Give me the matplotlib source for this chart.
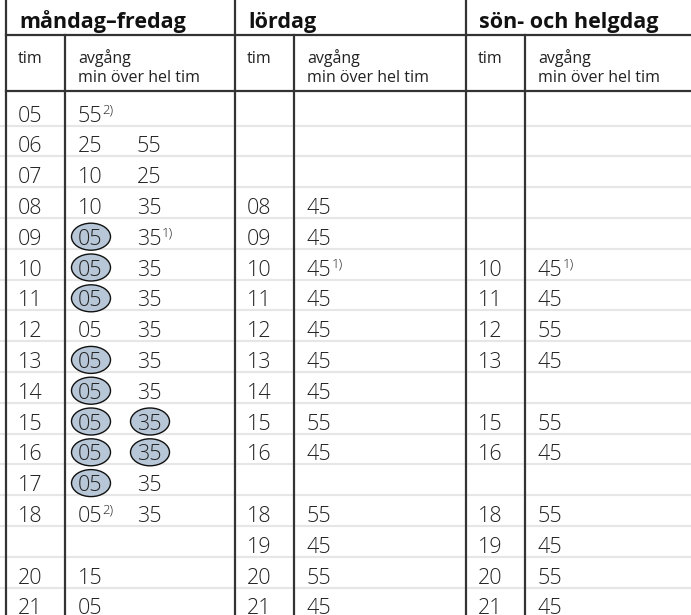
import matplotlib.pyplot as plt
from matplotlib.patches import Ellipse

# timetable data, one row per hour slot (17 slots)
mf_hours = ["05", "06", "07", "08", "09", "10", "11", "12", "13", "14",
            "15", "16", "17", "18", "", "20", "21"]
mf_minutes = [["55"], ["25", "55"], ["10", "25"], ["10", "35"], ["05", "35"],
              ["05", "35"], ["05", "35"], ["05", "35"], ["05", "35"], ["05", "35"],
              ["05", "35"], ["05", "35"], ["05", "35"], ["05", "35"], [],
              ["15"], ["05"]]
mf_circled = [(4, 0), (5, 0), (6, 0), (8, 0), (9, 0), (10, 0), (10, 1),
              (11, 0), (11, 1), (12, 0)]
mf_notes = {(0, 0): "2)", (4, 1): "1)", (13, 0): "2)"}

sat_hours = ["", "", "", "08", "09", "10", "11", "12", "13", "14",
             "15", "16", "", "18", "19", "20", "21"]
sat_minutes = [[], [], [], ["45"], ["45"], ["45"], ["45"], ["45"], ["45"], ["45"],
               ["55"], ["45"], [], ["55"], ["45"], ["55"], ["45"]]
sat_circled = []
sat_notes = {(5, 0): "1)"}

sun_hours = ["", "", "", "", "", "10", "11", "12", "13", "",
             "15", "16", "", "18", "19", "20", "21"]
sun_minutes = [[], [], [], [], [], ["45"], ["45"], ["55"], ["45"], [],
               ["55"], ["45"], [], ["55"], ["45"], ["55"], ["45"]]
sun_circled = []
sun_notes = {(5, 0): "1)"}

titles = ["måndag–fredag", "lördag", "sön- och helgdag"]
sub_hour = "tim"
sub_dep = ["avgång", "min över hel tim"]

sections = [
    (mf_hours, mf_minutes, mf_circled, mf_notes),
    (sat_hours, sat_minutes, sat_circled, sat_notes),
    (sun_hours, sun_minutes, sun_circled, sun_notes),
]

W, H = 691, 615
fig = plt.figure(figsize=(W / 100, H / 100), dpi=100)
ax = fig.add_axes([0, 0, 1, 1])
ax.set_xlim(0, W)
ax.set_ylim(H, 0)
ax.axis("off")

plt.rcParams["font.family"] = ["Open Sans", "DejaVu Sans"]
dark = "#333333"
light = "#e6e6e6"
txt = "#222222"
fill = "#b7c7d7"

sec_x = [6, 235, 466]
inner_dx = 59
head_y = 35
sub_y = 91
row0 = 125.5
row_h = 30.8
min_dx = [13, 72]
n_rows = len(mf_hours)
num_size = 15.5


def row_bottom(i):
    return row0 + row_h * i


# light row separators
for i in range(n_rows):
    ax.plot([0, W], [row_bottom(i)] * 2, color=light, lw=1.5, zorder=1)

# dark lines
ax.plot([sec_x[0], W], [head_y] * 2, color=dark, lw=1.6, zorder=3)
ax.plot([sec_x[0], W], [sub_y] * 2, color=dark, lw=1.6, zorder=3)
for x in sec_x:
    ax.plot([x, x], [0, H], color=dark, lw=1.6, zorder=3)
    ax.plot([x + inner_dx, x + inner_dx], [head_y, H], color=dark, lw=1.6, zorder=3)

for s, (hours, minutes, circled, notes) in enumerate(sections):
    x0 = sec_x[s]
    ax.text(x0 + 13, 28, titles[s], fontsize=15.5, fontweight="bold",
            color="#111111", va="baseline", ha="left")
    ax.text(x0 + 12, 63, sub_hour, fontsize=11.5, color=txt, va="baseline")
    ax.text(x0 + inner_dx + 13, 63, sub_dep[0], fontsize=11.5, color=txt,
            va="baseline")
    ax.text(x0 + inner_dx + 13, 82, sub_dep[1], fontsize=11.5, color=txt,
            va="baseline")
    for i in range(n_rows):
        base = row_bottom(i) - 4
        if hours[i]:
            ax.text(x0 + 12, base, hours[i], fontsize=num_size, fontweight="light",
                    color=txt, va="baseline", ha="left", zorder=5)
        for j, m in enumerate(minutes[i]):
            mx = x0 + inner_dx + min_dx[j]
            if (i, j) in circled:
                ax.add_patch(Ellipse((mx + 13, base - 8), 39, 27, facecolor=fill,
                                     edgecolor="#111111", lw=1.0, zorder=4))
            t = ax.text(mx, base, m, fontsize=num_size, fontweight="light",
                        color=txt, va="baseline", ha="left", zorder=5)
            if (i, j) in notes:
                ax.annotate(notes[(i, j)], xy=(1, base - 8.5),
                            xycoords=(t, "data"), fontsize=9.5,
                            fontweight="light", color=txt, va="baseline",
                            ha="left", zorder=5)

fig.savefig("out.png", dpi=100)
